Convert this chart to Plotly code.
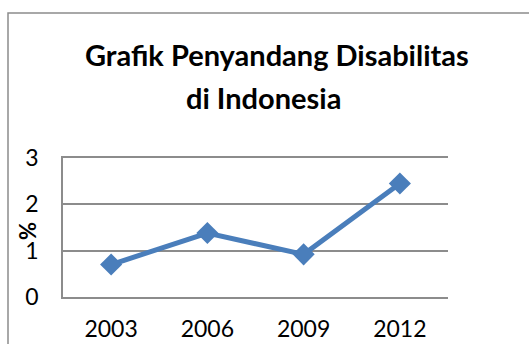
import plotly.graph_objects as go

years = ["2003", "2006", "2009", "2012"]
values = [0.7, 1.38, 0.92, 2.45]
y_ticks = [0, 1, 2, 3]
title_lines = ["Grafik Penyandang Disabilitas", "di Indonesia"]

W, H = 529, 344
L, R, T, B = 63, 81, 158, 47
pw = W - L - R
ph = H - T - B

def px_x(p):
    return (p - L) / pw

def px_y(p):
    return (H - B - p) / ph

fig = go.Figure()
fig.add_trace(go.Scatter(
    x=years, y=values, mode="lines+markers",
    line=dict(color="#4A7EBB", width=5),
    marker=dict(symbol="diamond", size=17, color="#4A7EBB"),
    hoverinfo="skip",
))

fig.update_layout(
    width=W, height=H,
    margin=dict(l=L, r=R, t=T, b=B, autoexpand=False),
    paper_bgcolor="white", plot_bgcolor="white",
    showlegend=False,
    font=dict(family="Lato, Open Sans, sans-serif", color="black"),
    xaxis=dict(
        type="category", range=[-0.5, 3.5], automargin=False,
        showgrid=False, showline=True, mirror=True,
        linecolor="#8C8C8C", linewidth=1.5,
        ticks="", tickfont=dict(size=23), ticklabelstandoff=11,
        zeroline=False, fixedrange=True,
    ),
    yaxis=dict(
        range=[0, 3], tickvals=y_ticks, ticktext=[str(v) for v in y_ticks],
        automargin=False,
        showgrid=True, gridcolor="#8C8C8C", gridwidth=1.5,
        showline=True, linecolor="#8C8C8C", linewidth=1.5,
        ticks="", tickfont=dict(size=23), ticklabelstandoff=18,
        zeroline=False, fixedrange=True,
    ),
    shapes=[dict(
        type="rect", xref="paper", yref="paper",
        x0=px_x(8), x1=px_x(560), y0=px_y(380), y1=px_y(13),
        line=dict(color="#8C8C8C", width=1.5), fillcolor="rgba(0,0,0,0)",
        layer="below",
    )],
    annotations=[
        dict(text="<b>%s</b>" % title_lines[0],
             xref="paper", yref="paper", x=px_x(277), y=px_y(55),
             xanchor="center", yanchor="middle", showarrow=False,
             font=dict(size=29, family="Lato, Open Sans, sans-serif", color="black")),
        dict(text="<b>%s</b>" % title_lines[1],
             xref="paper", yref="paper", x=px_x(263), y=px_y(97),
             xanchor="center", yanchor="middle", showarrow=False,
             font=dict(size=29, family="Lato, Open Sans, sans-serif", color="black")),
        dict(text="<b>%</b>", xref="paper", yref="paper",
             x=px_x(27), y=px_y(231), xanchor="center", yanchor="middle",
             textangle=-90, showarrow=False,
             font=dict(size=22, family="Lato, Open Sans, sans-serif", color="black")),
    ],
)

fig.write_html("out.html")
